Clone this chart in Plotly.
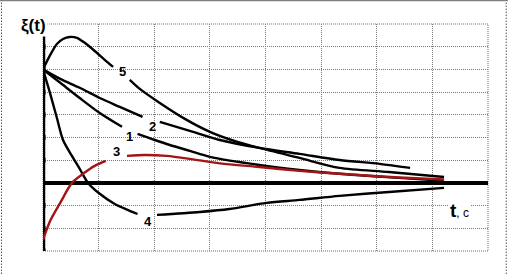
import plotly.graph_objects as go

# ---- data (t in grid units, xi in grid units) ----
t5 = [0, 0.13, 0.25, 0.36, 0.48, 0.61, 0.75, 0.93, 1.11, 1.26, None, 1.56, 1.74, 2.10, 2.55, 3.00, 3.44, 3.89, 4.61, 5.33, 6.22, 7.21]
y5 = [5, 5.64, 6.12, 6.34, 6.43, 6.39, 6.17, 5.81, 5.42, 5.11, None, 4.54, 4.14, 3.52, 2.82, 2.25, 1.85, 1.54, 1.10, 0.66, 0.48, 0.26]

t2 = [0, 0.31, 0.66, 1.02, 1.38, 1.79, None, 2.10, 2.64, 3.18, 3.89, 4.61, 5.33, 6.05, 6.60]
y2 = [5, 4.58, 4.19, 3.74, 3.35, 2.91, None, 2.69, 2.29, 1.89, 1.54, 1.28, 1.01, 0.84, 0.66]

t1 = [0, 0.31, 0.66, 1.02, 1.42, None, 1.70, 2.01, 2.28, 2.64, 3.00, 3.89, 4.61, 5.33, 6.40, 7.21]
y1 = [5, 4.41, 3.74, 3.08, 2.47, None, 2.16, 1.89, 1.67, 1.41, 1.15, 0.79, 0.57, 0.40, 0.22, 0.09]

t3 = [0, 0.13, 0.31, 0.52, 0.72, 0.93, 1.13, None, 1.51, 1.83, 2.22, 2.64, 3.18, 3.89, 4.61, 5.33, 6.40, 7.21]
y3 = [-2.51, -1.67, -0.88, 0, 0.40, 0.75, 0.97, None, 1.19, 1.23, 1.19, 1.06, 0.86, 0.70, 0.53, 0.40, 0.24, 0.15]

t4 = [0, 0.13, 0.25, 0.36, 0.52, 0.66, 0.81, 1.02, 1.29, 1.52, 1.70, None, 2.05, 2.82, 3.35, 4.02, 4.61, 5.33, 6.22, 7.21]
y4 = [5, 3.92, 2.86, 1.89, 1.19, 0.62, 0, -0.48, -0.93, -1.19, -1.37, None, -1.41, -1.28, -1.15, -0.88, -0.75, -0.57, -0.40, -0.22]

curve_labels = ["5", "2", "1", "3", "4"]
label_t = [1.43, 1.96, 1.56, 1.33, 1.88]
label_y = [4.89, 2.47, 2.03, 1.37, -1.72]

x_ticks = [1, 2, 3, 4, 5, 6, 7, 8]
y_ticks = [-3, -2, -1, 1, 2, 3, 4, 5, 6]
x_range = [0, 8]
y_range = [-3, 7]
y_axis_top = 6.5

fig = go.Figure()

# thick axes
fig.add_trace(go.Scatter(x=[0, 0], y=[y_range[0], y_axis_top], mode="lines",
                         line=dict(color="black", width=4.5), hoverinfo="skip"))
fig.add_trace(go.Scatter(x=x_range, y=[0, 0], mode="lines",
                         line=dict(color="black", width=4), hoverinfo="skip"))

red = "#a31515"
for t, y, c in [(t5, y5, "black"), (t2, y2, "black"), (t1, y1, "black"),
                (t4, y4, "black"), (t3, y3, red)]:
    fig.add_trace(go.Scatter(x=t, y=y, mode="lines",
                             line=dict(color=c, width=2.4, shape="spline", smoothing=0.8),
                             connectgaps=False, hoverinfo="skip"))

# tick squares
fig.add_trace(go.Scatter(x=x_ticks, y=[0] * len(x_ticks), mode="markers",
                         marker=dict(symbol="square", size=4, color="black"), hoverinfo="skip"))
fig.add_trace(go.Scatter(x=[0] * len(y_ticks), y=y_ticks, mode="markers",
                         marker=dict(symbol="square", size=5, color="black"), hoverinfo="skip"))

for s, lx, ly in zip(curve_labels, label_t, label_y):
    fig.add_annotation(x=lx, y=ly, text="<b>" + s + "</b>", showarrow=False,
                       xanchor="center", yanchor="middle",
                       font=dict(family="Arial", size=13, color="black"))

fig.add_annotation(xref="paper", yref="paper", x=(33 - 43) / 445, y=(251 - 25) / 227,
                   xanchor="center", yanchor="middle",
                   text="<b>ξ(t)</b>", showarrow=False, bgcolor="white",
                   font=dict(family="Arial", size=17, color="black"))
fig.add_annotation(x=7.48, y=-1.2, text="<b>t</b><span style='font-size:12px'>, c</span>",
                   xanchor="center", yanchor="middle",
                   showarrow=False, bgcolor="white",
                   font=dict(family="Arial", size=19, color="black"))

grid = dict(showgrid=True, gridcolor="#7a7a7a", griddash="1px,1px", gridwidth=1,
            zeroline=False, showticklabels=False, ticks="", dtick=1, showline=False)

fig.update_layout(
    width=508, height=275,
    margin=dict(l=43, r=20, t=24, b=24),
    paper_bgcolor="white", plot_bgcolor="white",
    showlegend=False,
    xaxis=dict(range=x_range, tick0=0, **grid),
    yaxis=dict(range=y_range, tick0=0, **grid),
    shapes=[
        dict(type="rect", xref="paper", yref="paper", x0=0, x1=1, y0=0, y1=1,
             line=dict(color="#a0a0a0", width=1.5, dash="1px,1px"), layer="below"),
        dict(type="line", xref="paper", yref="paper", x0=-0.0933, x1=-0.0933, y0=-0.1, y1=1.1,
             line=dict(color="black", width=1, dash="1px,2px")),
        dict(type="line", xref="paper", yref="paper", x0=1.041, x1=1.041, y0=-0.1, y1=1.1,
             line=dict(color="black", width=1, dash="1px,2px")),
        dict(type="line", xref="paper", yref="paper", x0=-0.1, x1=1.06, y0=1.103, y1=1.103,
             line=dict(color="#808080", width=1.5)),
    ],
)

fig.write_html("out.html")
